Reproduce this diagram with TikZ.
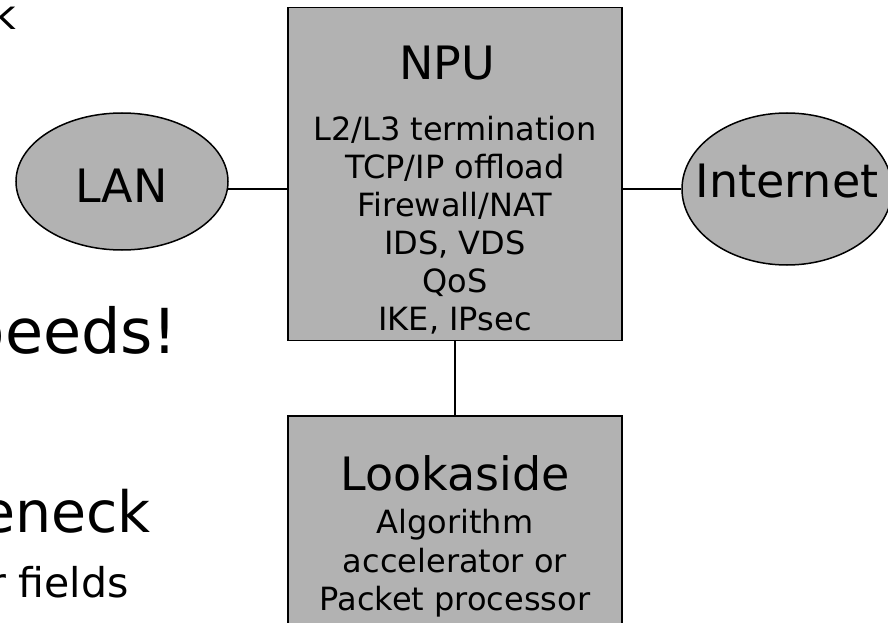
\documentclass[tikz,border=0pt]{standalone}
\usepackage{fontspec}
\setmainfont{DejaVu Sans}
\usetikzlibrary{shapes.geometric}
\definecolor{boxgray}{RGB}{178,178,178}
\begin{document}
\begin{tikzpicture}[x=1pt,y=-1pt,
  boxnode/.style={draw=black, line width=1.5pt, fill=boxgray, rectangle, inner sep=0pt},
  cloudnode/.style={draw=black, line width=1.5pt, fill=boxgray, ellipse, inner sep=0pt},
  link/.style={draw=black, line width=1.5pt},
  bigtxt/.style={anchor=base, inner sep=0pt, font=\fontsize{46}{50}\selectfont},
  smalltxt/.style={anchor=base, inner sep=0pt, font=\fontsize{32}{38}\selectfont},
  sidetxt/.style={anchor=base east, inner sep=0pt, font=\fontsize{62}{70}\selectfont},
  notetxt/.style={anchor=base east, inner sep=0pt, font=\fontsize{41}{46}\selectfont}]
\useasboundingbox (0,0) rectangle (888,623);
\fill[white] (0,0) rectangle (888,623);
% side texts (cut off at the left edge)
\node[notetxt] (t1) at (16,30) {k};
\node[sidetxt] (t2) at (178,353) {peeds!};
\node[sidetxt, font=\fontsize{57}{64}\selectfont] (t3) at (151,532) {eneck};
\node[notetxt] (t4) at (129,597) {r fields};
% shapes
\node[boxnode, minimum width=334pt, minimum height=332.5pt] (npu) at (455,174) {};
\node[boxnode, minimum width=334pt, minimum height=234pt] (look) at (455,533) {};
\node[cloudnode, minimum width=212pt, minimum height=137pt] (lan) at (122,181.5) {};
\node[cloudnode, minimum width=210pt, minimum height=152pt] (inet) at (787,189) {};
% connectors
\draw[link] (lan.-4) -- (lan.-4 -| npu.west);
\draw[link] (inet.west) -- (inet.west -| npu.east);
\draw[link] (npu.south) -- (look.north);
% labels
\node[bigtxt] (lanlbl) at (121.5,202) {LAN};
\node[bigtxt] (inetlbl) at (787,197) {Internet};
\node[bigtxt] (npulbl) at (447,80) {NPU};
\node[smalltxt] (n1) at (455,140) {L2/L3 termination};
\node[smalltxt] (n2) at (455,178) {TCP/IP offload};
\node[smalltxt] (n3) at (455,216) {Firewall/NAT};
\node[smalltxt] (n4) at (455,254) {IDS, VDS};
\node[smalltxt] (n5) at (455,292) {QoS};
\node[smalltxt] (n6) at (455,330) {IKE, IPsec};
\node[bigtxt] (looklbl) at (455,490) {Lookaside};
\node[smalltxt] (l1) at (455,533) {Algorithm};
\node[smalltxt] (l2) at (455,572) {accelerator or};
\node[smalltxt] (l3) at (455,610) {Packet processor};
\end{tikzpicture}
\end{document}
